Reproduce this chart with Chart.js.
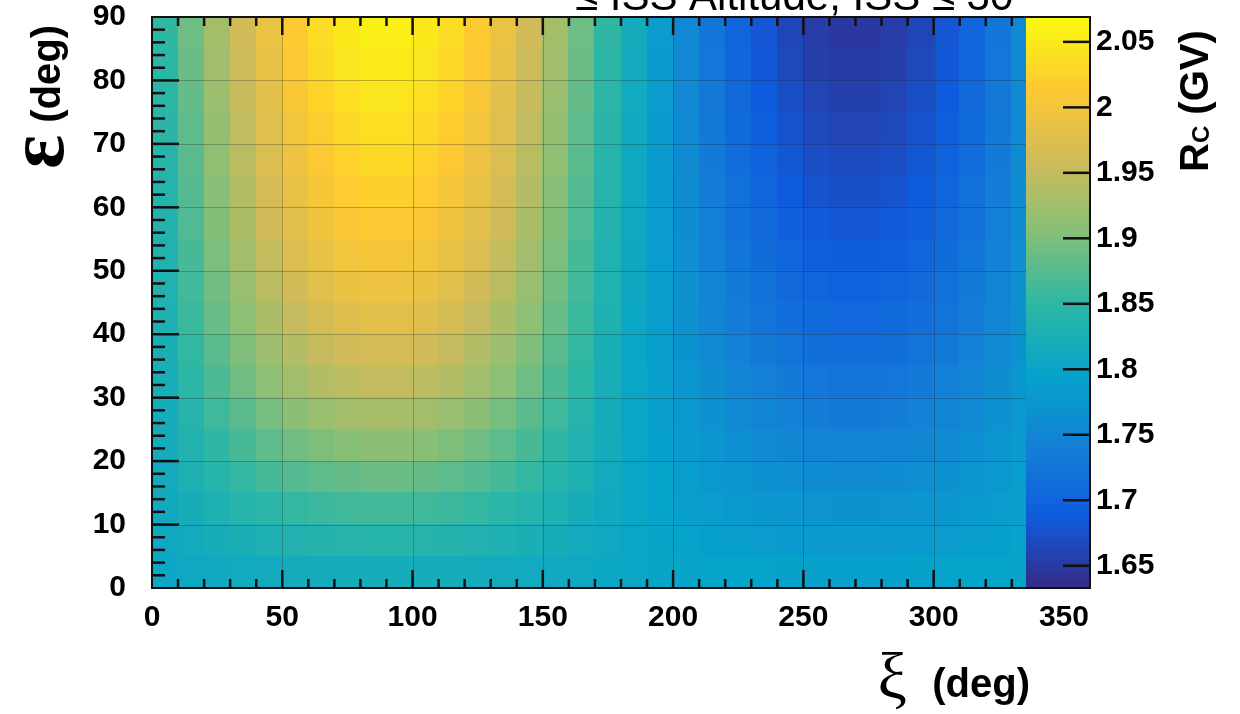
<!DOCTYPE html>
<html lang="en">
<head>
<meta charset="UTF-8">
<title>Rigidity cutoff map</title>
<script src="https://cdn.jsdelivr.net/npm/chart.js@4.4.1/dist/chart.umd.min.js"></script>
<style>
  html, body { margin: 0; padding: 0; background: #fff; }
  #wrap { width: 1240px; height: 714px; }
</style>
</head>
<body>
<div id="wrap"><canvas id="rcChart" width="1240" height="714"></canvas></div>
<script>
// bin centres, xi in 10 deg bins, epsilon in 5 deg bins (top row first)
const xiCenters = [5, 15, 25, 35, 45, 55, 65, 75, 85, 95, 105, 115, 125, 135, 145, 155, 165, 175,
                   185, 195, 205, 215, 225, 235, 245, 255, 265, 275, 285, 295, 305, 315, 325, 335, 345, 355];
const epsCenters = [87.5, 82.5, 77.5, 72.5, 67.5, 62.5, 57.5, 52.5, 47.5, 42.5, 37.5, 32.5, 27.5, 22.5, 17.5, 12.5, 7.5, 2.5];
const xiBin = 10;
const epsBin = 5;

// R_C (GV), one row per epsilon bin
const rcRows = [
  [1.852,1.890,1.927,1.961,1.991,2.016,2.036,2.049,2.056,2.056,2.049,2.036,2.016,1.991,1.961,1.927,1.890,1.852,1.816,1.784,1.754,1.726,1.701,1.681,1.664,1.653,1.648,1.648,1.653,1.664,1.681,1.701,1.726,1.754,1.784,1.816],
  [1.849,1.888,1.924,1.957,1.987,2.012,2.031,2.045,2.051,2.051,2.045,2.031,2.012,1.987,1.957,1.924,1.888,1.849,1.814,1.783,1.754,1.727,1.703,1.683,1.667,1.656,1.651,1.651,1.656,1.667,1.683,1.703,1.727,1.754,1.783,1.814],
  [1.847,1.885,1.920,1.953,1.982,2.007,2.026,2.039,2.045,2.045,2.039,2.026,2.007,1.982,1.953,1.920,1.885,1.847,1.813,1.784,1.755,1.729,1.706,1.687,1.672,1.662,1.657,1.657,1.662,1.672,1.687,1.706,1.729,1.755,1.784,1.813],
  [1.845,1.881,1.916,1.948,1.977,2.000,2.019,2.032,2.038,2.038,2.032,2.019,2.000,1.977,1.948,1.916,1.881,1.845,1.812,1.783,1.756,1.731,1.709,1.691,1.677,1.667,1.662,1.662,1.667,1.677,1.691,1.709,1.731,1.756,1.783,1.812],
  [1.842,1.878,1.912,1.943,1.971,1.994,2.012,2.025,2.031,2.031,2.025,2.012,1.994,1.971,1.943,1.912,1.878,1.842,1.810,1.783,1.758,1.734,1.713,1.695,1.682,1.672,1.668,1.668,1.672,1.682,1.695,1.713,1.734,1.758,1.783,1.810],
  [1.840,1.874,1.907,1.938,1.965,1.987,2.005,2.017,2.023,2.023,2.017,2.005,1.987,1.965,1.938,1.907,1.874,1.840,1.809,1.783,1.759,1.737,1.717,1.700,1.687,1.678,1.674,1.674,1.678,1.687,1.700,1.717,1.737,1.759,1.783,1.809],
  [1.837,1.871,1.903,1.933,1.959,1.981,1.998,2.009,2.015,2.015,2.009,1.998,1.981,1.959,1.933,1.903,1.871,1.837,1.808,1.784,1.761,1.740,1.721,1.705,1.693,1.685,1.681,1.681,1.685,1.693,1.705,1.721,1.740,1.761,1.784,1.808],
  [1.834,1.867,1.898,1.926,1.951,1.972,1.988,2.000,2.005,2.005,2.000,1.988,1.972,1.951,1.926,1.898,1.867,1.834,1.807,1.784,1.763,1.743,1.725,1.711,1.699,1.692,1.688,1.688,1.692,1.699,1.711,1.725,1.743,1.763,1.784,1.807],
  [1.833,1.863,1.892,1.919,1.943,1.963,1.978,1.989,1.994,1.994,1.989,1.978,1.963,1.943,1.919,1.892,1.863,1.833,1.807,1.786,1.766,1.748,1.732,1.718,1.707,1.700,1.697,1.697,1.700,1.707,1.718,1.732,1.748,1.766,1.786,1.807],
  [1.830,1.858,1.886,1.911,1.933,1.952,1.966,1.976,1.981,1.981,1.976,1.966,1.952,1.933,1.911,1.886,1.858,1.830,1.805,1.786,1.768,1.751,1.737,1.724,1.714,1.708,1.704,1.704,1.708,1.714,1.724,1.737,1.751,1.768,1.786,1.805],
  [1.826,1.853,1.878,1.901,1.921,1.938,1.952,1.961,1.965,1.965,1.961,1.952,1.938,1.921,1.901,1.878,1.853,1.826,1.804,1.787,1.771,1.756,1.742,1.731,1.722,1.716,1.713,1.713,1.716,1.722,1.731,1.742,1.756,1.771,1.787,1.804],
  [1.824,1.848,1.870,1.891,1.910,1.925,1.937,1.945,1.949,1.949,1.945,1.937,1.925,1.910,1.891,1.870,1.848,1.824,1.804,1.789,1.775,1.762,1.750,1.740,1.732,1.727,1.724,1.724,1.727,1.732,1.740,1.750,1.762,1.775,1.789,1.804],
  [1.820,1.841,1.861,1.879,1.895,1.908,1.919,1.926,1.930,1.930,1.926,1.919,1.908,1.895,1.879,1.861,1.841,1.820,1.803,1.790,1.778,1.766,1.756,1.748,1.741,1.737,1.734,1.734,1.737,1.741,1.748,1.756,1.766,1.778,1.790,1.803],
  [1.818,1.835,1.851,1.866,1.880,1.891,1.900,1.906,1.909,1.909,1.906,1.900,1.891,1.880,1.866,1.851,1.835,1.818,1.803,1.793,1.782,1.773,1.764,1.757,1.752,1.748,1.746,1.746,1.748,1.752,1.757,1.764,1.773,1.782,1.793,1.803],
  [1.815,1.829,1.842,1.854,1.865,1.874,1.880,1.885,1.888,1.888,1.885,1.880,1.874,1.865,1.854,1.842,1.829,1.815,1.804,1.795,1.787,1.779,1.773,1.767,1.763,1.760,1.758,1.758,1.760,1.763,1.767,1.773,1.779,1.787,1.795,1.804],
  [1.811,1.821,1.831,1.839,1.847,1.854,1.859,1.862,1.864,1.864,1.862,1.859,1.854,1.847,1.839,1.831,1.821,1.811,1.803,1.796,1.790,1.785,1.780,1.776,1.773,1.770,1.769,1.769,1.770,1.773,1.776,1.780,1.785,1.790,1.796,1.803],
  [1.808,1.815,1.821,1.826,1.831,1.835,1.838,1.841,1.842,1.842,1.841,1.838,1.835,1.831,1.826,1.821,1.815,1.808,1.803,1.799,1.795,1.791,1.788,1.785,1.783,1.782,1.781,1.781,1.782,1.783,1.785,1.788,1.791,1.795,1.799,1.803],
  [1.805,1.808,1.811,1.813,1.815,1.817,1.818,1.819,1.820,1.820,1.819,1.818,1.817,1.815,1.813,1.811,1.808,1.805,1.803,1.801,1.799,1.798,1.796,1.795,1.794,1.793,1.793,1.793,1.793,1.794,1.795,1.796,1.798,1.799,1.801,1.803]
];

// axes
const xiTicks = [0, 50, 100, 150, 200, 250, 300, 350];
const epsTicks = [0, 10, 20, 30, 40, 50, 60, 70, 80, 90];
const rcTicks = [1.65, 1.7, 1.75, 1.8, 1.85, 1.9, 1.95, 2, 2.05];
const rcMin = 1.633;
const rcMax = 2.069;
const paletteStartXi = 335.5; // palette box is drawn over the right of the frame

// ROOT "bird" palette
const birdStops = [0, 0.125, 0.25, 0.375, 0.5, 0.625, 0.75, 0.875, 1];
const birdR = [0.2082, 0.0592, 0.0780, 0.0232, 0.1802, 0.5301, 0.8186, 0.9956, 0.9764];
const birdG = [0.1664, 0.3599, 0.5041, 0.6419, 0.7178, 0.7492, 0.7328, 0.7862, 0.9832];
const birdB = [0.5293, 0.8684, 0.8385, 0.7914, 0.6425, 0.4662, 0.3499, 0.1968, 0.0539];

function birdColor(v) {
  let t = (v - rcMin) / (rcMax - rcMin);
  t = Math.max(0, Math.min(1, t));
  let i = 0;
  while (i < birdStops.length - 2 && t > birdStops[i + 1]) i++;
  const f = (t - birdStops[i]) / (birdStops[i + 1] - birdStops[i]);
  const c = arr => Math.round(255 * (arr[i] + f * (arr[i + 1] - arr[i])));
  return `rgb(${c(birdR)},${c(birdG)},${c(birdB)})`;
}

const FONT = "'Liberation Sans', Arial, Helvetica, sans-serif";
const INK = '#111';

const rcMapPlugin = {
  id: 'rcMap',
  beforeDatasetsDraw(chart) {
    const { ctx, chartArea: a, scales: { x, y, z } } = chart;
    ctx.save();
    ctx.beginPath();
    ctx.rect(a.left, a.top, a.width, a.height);
    ctx.clip();

    // cells
    epsCenters.forEach((eps, r) => {
      const yTop = y.getPixelForValue(eps + epsBin / 2);
      const yBot = y.getPixelForValue(eps - epsBin / 2);
      xiCenters.forEach((xi, k) => {
        const x0 = x.getPixelForValue(xi - xiBin / 2);
        const x1 = x.getPixelForValue(xi + xiBin / 2);
        ctx.fillStyle = birdColor(rcRows[r][k]);
        ctx.fillRect(Math.floor(x0), Math.floor(yTop), Math.ceil(x1 - x0) + 1, Math.ceil(yBot - yTop) + 1);
      });
    });

    // grid
    ctx.strokeStyle = 'rgba(30,30,30,0.28)';
    ctx.lineWidth = 1;
    xiTicks.forEach(v => {
      if (v <= 0) return;
      const px = Math.round(x.getPixelForValue(v)) + 0.5;
      ctx.beginPath(); ctx.moveTo(px, a.top); ctx.lineTo(px, a.bottom); ctx.stroke();
    });
    epsTicks.forEach(v => {
      if (v <= 0 || v >= 90) return;
      const py = Math.round(y.getPixelForValue(v)) + 0.5;
      ctx.beginPath(); ctx.moveTo(a.left, py); ctx.lineTo(a.right, py); ctx.stroke();
    });

    // inner ticks on x (bottom + top) and y (left)
    ctx.strokeStyle = INK;
    ctx.lineWidth = 2.5;
    for (let v = 10; v < 360; v += 10) {
      const px = x.getPixelForValue(v);
      const len = v % 50 === 0 ? 18 : 9;
      ctx.beginPath();
      ctx.moveTo(px, a.bottom); ctx.lineTo(px, a.bottom - len);
      ctx.moveTo(px, a.top); ctx.lineTo(px, a.top + len);
      ctx.stroke();
    }
    for (let v = 2; v < 90; v += 2) {
      const py = y.getPixelForValue(v);
      const len = v % 10 === 0 ? 27 : 13;
      ctx.beginPath(); ctx.moveTo(a.left, py); ctx.lineTo(a.left + len, py); ctx.stroke();
    }

    // palette box
    const pLeft = Math.round(x.getPixelForValue(paletteStartXi));
    for (let py = Math.floor(a.top); py < a.bottom; py++) {
      ctx.fillStyle = birdColor(z.getValueForPixel(py + 0.5));
      ctx.fillRect(pLeft, py, a.right - pLeft, 1);
    }
    ctx.lineWidth = 2.5;
    rcTicks.forEach(v => {
      const py = z.getPixelForValue(v);
      ctx.beginPath(); ctx.moveTo(a.right - 27, py); ctx.lineTo(a.right, py); ctx.stroke();
    });
    ctx.restore();

    // frame
    ctx.save();
    ctx.strokeStyle = INK;
    ctx.lineWidth = 2;
    ctx.strokeRect(a.left, a.top, a.width, a.height);
    ctx.restore();
  },
  afterDraw(chart) {
    const { ctx } = chart;
    ctx.save();
    ctx.fillStyle = '#000';
    ctx.textBaseline = 'alphabetic';

    // top title, mostly cut off by the canvas edge
    ctx.font = `42px ${FONT}`;
    ctx.textAlign = 'left';
    ctx.fillText('\u2264 ISS Altitude, ISS \u2264 30', 575, 10);

    // x title
    ctx.font = `bold 40px ${FONT}`;
    ctx.textAlign = 'right';
    ctx.fillText('(deg)', 1030, 697);
    ctx.font = `66px 'Liberation Serif', 'DejaVu Serif', serif`;
    ctx.fillText('\u03BE', 907, 698);

    // y title
    ctx.save();
    ctx.translate(60, 25);
    ctx.rotate(-Math.PI / 2);
    ctx.textAlign = 'right';
    ctx.font = `bold 40px ${FONT}`;
    ctx.fillText('(deg)', 0, 0);
    const wDeg = ctx.measureText('(deg)').width;
    ctx.textAlign = 'left';
    ctx.font = `bold 80px 'Liberation Serif', 'DejaVu Serif', serif`;
    const wEps = ctx.measureText('\u03B5').width;
    ctx.fillText('\u03B5', -wDeg - 12 - wEps, 3);
    ctx.restore();

    // palette title R_C (GV)
    ctx.save();
    ctx.translate(1208, 172);
    ctx.rotate(-Math.PI / 2);
    ctx.textAlign = 'left';
    ctx.font = `bold 40px ${FONT}`;
    ctx.fillText('R', 0, 0);
    const wR = ctx.measureText('R').width;
    ctx.font = `bold 24px ${FONT}`;
    ctx.fillText('C', wR, 1);
    const wC = ctx.measureText('C').width;
    ctx.font = `bold 40px ${FONT}`;
    ctx.fillText(' (GV)', wR + wC, 0);
    ctx.restore();

    ctx.restore();
  }
};

const tickFont = { family: FONT, size: 30, weight: 'bold' };

// keep tick labels from pushing the frame in
const noPadY = s => { s.paddingTop = 0; s.paddingBottom = 0; };
const noPadX = s => { s.paddingLeft = 0; s.paddingRight = 0; };

new Chart(document.getElementById('rcChart'), {
  type: 'scatter',
  data: { datasets: [] },
  options: {
    responsive: false,
    devicePixelRatio: 1,
    animation: false,
    layout: { padding: { top: 17, left: 0, right: 0, bottom: 0 } },
    plugins: { legend: { display: false }, tooltip: { enabled: false } },
    scales: {
      x: {
        type: 'linear',
        min: 0,
        max: 360,
        afterBuildTicks: s => { s.ticks = xiTicks.map(v => ({ value: v })); },
        afterFit: s => { s.height = 126; noPadX(s); },
        grid: { display: false, drawTicks: false },
        border: { display: false },
        ticks: { font: tickFont, color: '#000', padding: 12, maxRotation: 0, autoSkip: false }
      },
      y: {
        type: 'linear',
        min: 0,
        max: 90,
        afterBuildTicks: s => { s.ticks = epsTicks.map(v => ({ value: v })); },
        afterFit: s => { s.width = 152; noPadY(s); },
        grid: { display: false, drawTicks: false },
        border: { display: false },
        ticks: { font: tickFont, color: '#000', padding: 26, autoSkip: false }
      },
      z: {
        axis: 'y',
        type: 'linear',
        position: 'right',
        min: rcMin,
        max: rcMax,
        afterBuildTicks: s => { s.ticks = rcTicks.map(v => ({ value: v })); },
        afterFit: s => { s.width = 150; noPadY(s); },
        grid: { display: false, drawTicks: false },
        border: { display: false },
        ticks: {
          font: tickFont, color: '#000', padding: 6, autoSkip: false,
          callback: v => String(Math.round(v * 100) / 100)
        }
      }
    }
  },
  plugins: [rcMapPlugin]
});
</script>
</body>
</html>
